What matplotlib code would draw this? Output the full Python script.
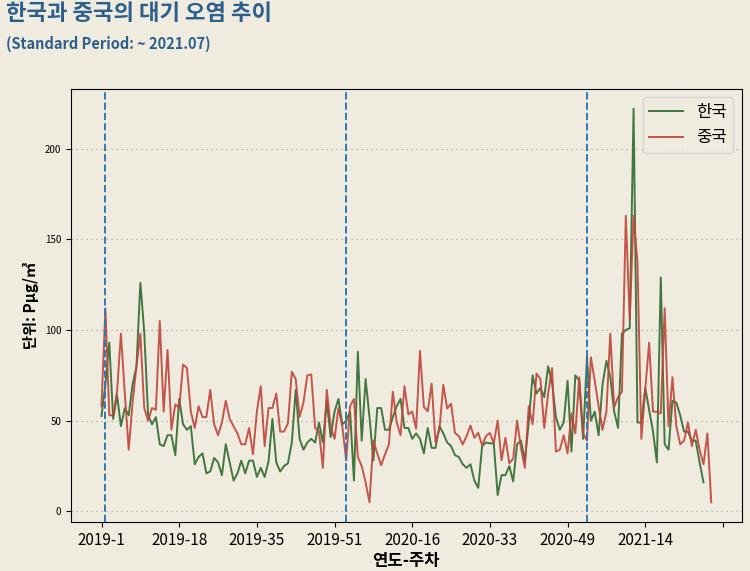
import matplotlib
matplotlib.use("Agg")
import matplotlib.pyplot as plt
import numpy as np

plt.rcParams['font.family'] = ['Noto Sans CJK KR', 'DejaVu Sans']
plt.rcParams['axes.unicode_minus'] = False

# weekly average (year-week), index 0 = 2019-1
korea = [
    52.6, 70, 93, 51, 64, 47, 57, 53, 70, 80,
    126, 99, 53, 48, 52, 37, 36, 42, 42, 31,
    62, 48, 45, 47, 26, 30, 32, 21, 22, 29.5,
    27, 20, 37, 27, 17, 21, 28, 21, 28, 28,
    19, 24, 19, 27.5, 51, 27, 22, 25, 26.5, 38,
    67, 40, 34, 38, 40, 38, 49, 38, 61, 41,
    55, 62, 48, 50, 55, 17, 88, 39, 73, 52,
    28, 57, 57, 45, 45, 52, 58, 62, 46, 46,
    40, 43, 40, 32, 46, 35, 35, 47, 43, 38,
    36, 31, 30, 26, 24, 26, 17, 13, 36, 38,
    37.5, 37.5, 9, 20, 20, 25, 16.5, 37, 39, 28,
    49, 75, 65, 68, 63, 80, 71, 52, 45, 49,
    72, 33, 75, 72, 40, 85, 50, 55, 42, 70,
    83, 74, 55, 46, 98, 100, 101, 222, 49, 49,
    68, 56, 44, 27, 129, 37, 34, 61, 60, 53,
    44, 44, 39, 39, 27, 16,
]
china = [
    58, 112, 53, 53, 66, 98, 65, 34, 60, 80,
    98, 57, 50, 57, 56, 105, 55, 89, 45, 59,
    57, 81, 79, 55, 46, 58, 52, 52, 67, 48,
    42, 49, 61, 51, 47, 43, 37, 37, 46, 31.5,
    55, 69, 36, 57, 57, 65, 44, 44, 48.5, 77,
    73, 52, 60, 75, 75.5, 46, 44, 24, 67, 47,
    40, 57, 47, 28, 58, 62, 30, 25, 16, 5,
    39, 32, 25.5, 31.5, 37, 66, 49, 42, 69, 53.5,
    55, 45.6, 88.5, 57.6, 55.2, 70.4, 38.2, 45, 69.8, 56.7,
    59.4, 43.3, 41.5, 36.9, 41.5, 47.3, 40.6, 43.3, 36.4, 41.5,
    43.3, 37.5, 50.1, 28.2, 40.6, 26.5, 29.1, 50.1, 35, 24,
    58, 48, 76, 73, 46, 65, 79, 33, 34, 42,
    32, 54, 43, 74, 43, 39, 85, 72, 58, 45,
    55, 98, 57.5, 63, 66, 163, 106, 163, 137, 40,
    67, 93, 55, 55, 54, 112, 47, 74, 47, 37,
    39, 49, 36, 45, 34, 26, 43, 5,
]
tick_pos = [0, 20, 40, 60, 80, 100, 120, 140, 160]
tick_labels = ['2019-1', '2019-18', '2019-35', '2019-51', '2020-16',
               '2020-33', '2020-49', '2021-14', '']
year_starts = [1, 63, 125]  # dashed markers

BG = '#efebdf'
TITLE_C = '#2b5f8c'

fig = plt.figure(figsize=(7.5, 5.71), dpi=100, facecolor=BG)
ax = fig.add_axes([0.0947, 0.0858, 0.8943, 0.7582], facecolor=BG)

ax.plot(np.arange(len(korea)), korea, color='#2f6a2f', lw=1.4, alpha=0.9, label='한국')
ax.plot(np.arange(len(china)), china, color='#c0453a', lw=1.4, alpha=0.9, label='중국')
for xv in year_starts:
    ax.axvline(xv, color='#2a7ab8', ls='--', lw=1.4)

ax.set_xticks(tick_pos)
ax.set_xticklabels(tick_labels, fontsize=11)
ax.tick_params(axis='y', labelsize=7)
ax.yaxis.grid(True, ls=(0, (1, 3)), color='#aaaaaa', lw=0.9)
ax.set_axisbelow(True)
ax.set_xlabel('연도-주차', fontsize=12, fontweight='bold', labelpad=2)
ax.set_ylabel('단위: Pμg/㎥', fontsize=11, fontweight='bold')

leg = ax.legend(loc='upper right', fontsize=12, facecolor=BG, edgecolor='#d0d0d0')

fig.text(0.008, 0.977, '한국과 중국의 대기 오염 추이', fontsize=16, fontweight='bold',
         color=TITLE_C, va='center', ha='left')
fig.text(0.008, 0.923, '(Standard Period: ~ 2021.07)', fontsize=10.5, fontweight='bold',
         color=TITLE_C, va='center', ha='left')

fig.savefig('out.png', dpi=100, facecolor=BG)
